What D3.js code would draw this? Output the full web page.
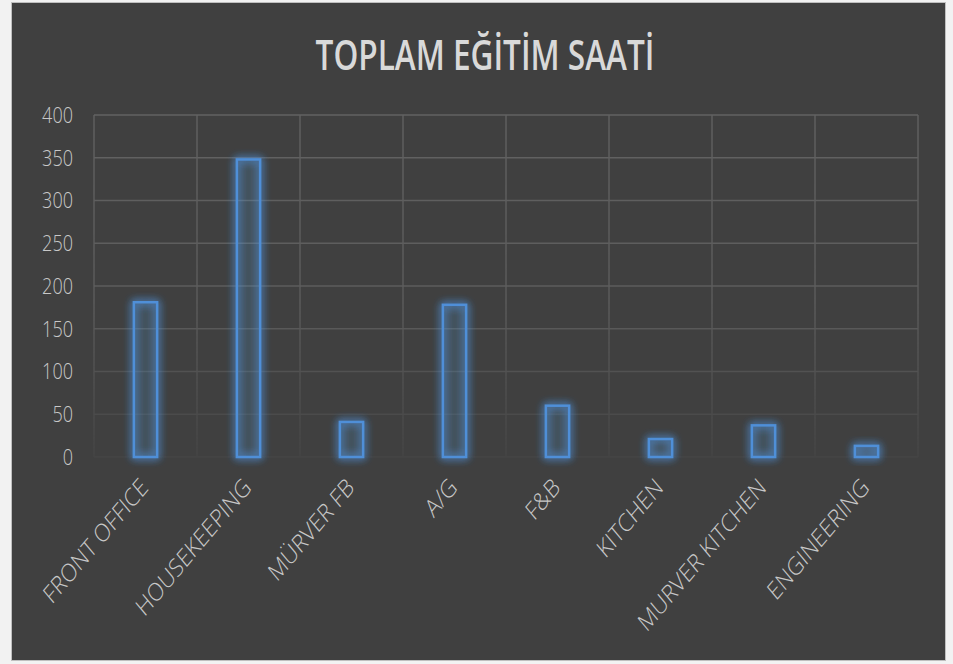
<!DOCTYPE html>
<html><head><meta charset="utf-8">
<script src="https://cdn.jsdelivr.net/npm/d3@7"></script>
<style>html,body{margin:0;padding:0;background:#fff;}svg{display:block;}</style>
</head><body>
<svg id="c" width="953" height="664"></svg>
<script>
const categories = ["FRONT OFFICE","HOUSEKEEPING","MÜRVER FB","A/G","F&B","KITCHEN","MURVER KITCHEN","ENGINEERING"];
const values = [181, 348, 41, 178, 60, 21, 37, 13];
const yTicks = [0,50,100,150,200,250,300,350,400];
const title = "TOPLAM EĞİTİM SAATİ";

const svg = d3.select("#c");
const defs = svg.append("defs");
const glow = defs.append("filter").attr("id","glow").attr("x","-80%").attr("y","-80%").attr("width","260%").attr("height","260%");
glow.append("feGaussianBlur").attr("in","SourceGraphic").attr("stdDeviation",4).attr("result","b");
const fm = glow.append("feMerge");
fm.append("feMergeNode").attr("in","b");
fm.append("feMergeNode").attr("in","b");
fm.append("feMergeNode").attr("in","SourceGraphic");

const grad = defs.append("linearGradient").attr("id","fade").attr("x1",0).attr("y1",0).attr("x2",0).attr("y2",1);
grad.append("stop").attr("offset","0").attr("stop-color","#fff").attr("stop-opacity",1);
grad.append("stop").attr("offset","0.55").attr("stop-color","#fff").attr("stop-opacity",0.85);
grad.append("stop").attr("offset","1").attr("stop-color","#fff").attr("stop-opacity",0.15);
const mask = defs.append("mask").attr("id","gm").attr("maskUnits","userSpaceOnUse").attr("x",0).attr("y",0).attr("width",953).attr("height",664);

// frame
svg.append("rect").attr("x",0).attr("y",0).attr("width",953).attr("height",664).attr("fill","#f2f2f2");
svg.append("rect").attr("x",11.5).attr("y",2.5).attr("width",934).attr("height",658).attr("fill","#404040").attr("stroke","#bfbfbf").attr("stroke-width",1);

const m = {left:94, right:918, top:115, bottom:457};
const x = d3.scaleBand().domain(categories).range([m.left, m.right]).paddingInner(0.75).paddingOuter(0.375);
const xb = d3.scaleBand().domain(categories).range([m.left, m.right]);
const y = d3.scaleLinear().domain([0,400]).range([m.bottom, m.top]);

mask.append("rect").attr("x",m.left-2).attr("y",m.top-2).attr("width",m.right-m.left+4).attr("height",m.bottom-m.top+4).attr("fill","url(#fade)");

// grid
const grid = svg.append("g").attr("mask","url(#gm)");
grid.selectAll("line.h").data(yTicks).join("line")
  .attr("x1",m.left).attr("x2",m.right).attr("y1",d=>y(d)).attr("y2",d=>y(d))
  .attr("stroke","#626262").attr("stroke-width",1.4);
const vb = categories.map(c=>xb(c)).concat([m.right]);
grid.selectAll("line.v").data(vb).join("line")
  .attr("x1",d=>d).attr("x2",d=>d).attr("y1",m.top).attr("y2",m.bottom)
  .attr("stroke","#626262").attr("stroke-width",1.4);

// y axis
const ya = svg.append("g").attr("transform",`translate(${m.left-21},0)`)
  .call(d3.axisLeft(y).tickValues(yTicks).tickSize(0).tickPadding(0));
ya.select(".domain").remove();
ya.selectAll("text").attr("fill","#c8c8c8").attr("font-family","'Open Sans', 'Noto Sans', sans-serif").attr("font-weight",300).attr("font-size",21.5)
  .attr("dy","0.34em").attr("transform","scale(0.84,1)");

// bars
svg.append("g").selectAll("rect").data(values).join("rect")
  .attr("x",(d,i)=>x(categories[i])+1.25).attr("width",x.bandwidth()-2.5)
  .attr("y",d=>y(d)).attr("height",d=>y(0)-y(d))
  .attr("fill","rgba(91,155,213,0.07)").attr("stroke","#4f8fd8").attr("stroke-width",2.5)
  .attr("filter","url(#glow)");

// x labels
const xa = svg.append("g").attr("transform",`translate(0,${m.bottom})`)
  .call(d3.axisBottom(xb).tickSize(0).tickPadding(0));
xa.select(".domain").remove();
xa.selectAll("text")
  .attr("fill","#c8c8c8").attr("font-family","'Open Sans', 'Noto Sans', sans-serif").attr("font-weight",300).attr("font-size",25)
  .attr("text-anchor","end").attr("dy",0).attr("y",0)
  .attr("transform","translate(4,32) scale(0.84,1) rotate(-45)");

// title
svg.append("text").attr("x",485).attr("y",70).attr("text-anchor","middle")
  .attr("fill","#d9d9d9").attr("font-family","'Open Sans', 'Noto Sans', sans-serif").attr("font-weight",600)
  .attr("font-size",41)
  .attr("transform","translate(485,0) scale(0.77,1) translate(-485,0)")
  .text(title);
</script>
</body></html>
